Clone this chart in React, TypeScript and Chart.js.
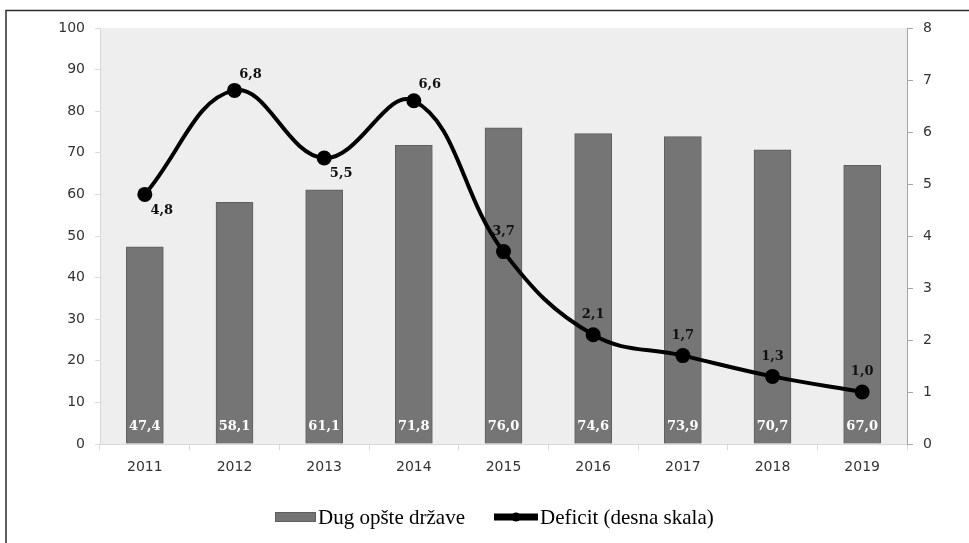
import React, { useEffect, useRef } from "react";
import { Chart, registerables } from "chart.js";

Chart.register(...registerables);

const years = ["2011", "2012", "2013", "2014", "2015", "2016", "2017", "2018", "2019"];
const debt = [47.4, 58.1, 61.1, 71.8, 76.0, 74.6, 73.9, 70.7, 67.0];
const deficit = [4.8, 6.8, 5.5, 6.6, 3.7, 2.1, 1.7, 1.3, 1.0];
const deficitLabelPlacement = ["belowRight", "aboveRight", "belowRight", "aboveRight", "above", "above", "above", "above", "above"];
const debtLabel = "Dug opšte države";
const deficitLabel = "Deficit (desna skala)";

const fmt = (v: number) => v.toFixed(1).replace(".", ",");

const W = 969;
const H = 543;

const decorPlugin = {
  id: "decor",
  beforeDraw(chart: any) {
    const { ctx, chartArea } = chart;
    ctx.save();
    ctx.fillStyle = "#ffffff";
    ctx.fillRect(0, 0, W, H);
    ctx.fillStyle = "#eeeeee";
    ctx.fillRect(chartArea.left, chartArea.top, chartArea.right - chartArea.left, chartArea.bottom - chartArea.top);
    ctx.strokeStyle = "#2b2b2b";
    ctx.lineWidth = 1.5;
    ctx.beginPath();
    ctx.moveTo(6, H + 5);
    ctx.lineTo(6, 10.5);
    ctx.lineTo(W + 5, 10.5);
    ctx.stroke();
    ctx.restore();
  },
  afterDatasetsDraw(chart: any) {
    const { ctx, chartArea } = chart;
    ctx.save();
    const barMeta = chart.getDatasetMeta(1);
    ctx.font = "bold 13px 'DejaVu Serif'";
    ctx.fillStyle = "#ffffff";
    ctx.textAlign = "center";
    ctx.textBaseline = "middle";
    barMeta.data.forEach((el: any, i: number) => {
      ctx.fillText(fmt(debt[i]), el.x, chartArea.bottom - 17);
    });
    const lineMeta = chart.getDatasetMeta(0);
    ctx.fillStyle = "#111111";
    lineMeta.data.forEach((el: any, i: number) => {
      const p = deficitLabelPlacement[i];
      let dx = 0;
      let dy = -20;
      if (p === "belowRight") { dx = 17; dy = 16; }
      if (p === "aboveRight") { dx = 16; dy = -16; }
      ctx.fillText(fmt(deficit[i]), el.x + dx, el.y + dy);
    });
    ctx.restore();
  },
  afterDraw(chart: any) {
    const { ctx } = chart;
    ctx.save();
    const ly = 517;
    ctx.fillStyle = "#757575";
    ctx.strokeStyle = "#5f5f5f";
    ctx.lineWidth = 1;
    ctx.fillRect(275, ly - 5, 41, 10);
    ctx.strokeRect(275.5, ly - 4.5, 40, 9);
    ctx.font = "21px 'Liberation Serif'";
    ctx.fillStyle = "#000000";
    ctx.textAlign = "left";
    ctx.textBaseline = "middle";
    ctx.fillText(debtLabel, 318, ly + 1);
    ctx.strokeStyle = "#000000";
    ctx.lineWidth = 7;
    ctx.beginPath();
    ctx.moveTo(494, ly);
    ctx.lineTo(538, ly);
    ctx.stroke();
    ctx.beginPath();
    ctx.arc(516, ly, 4.5, 0, Math.PI * 2);
    ctx.fillStyle = "#000000";
    ctx.fill();
    ctx.fillText(deficitLabel, 540, ly + 1);
    ctx.restore();
  },
};

export default function App() {
  const ref = useRef<HTMLCanvasElement | null>(null);
  useEffect(() => {
    if (!ref.current) return;
    const tickFont = { family: "'DejaVu Sans'", size: 14 };
    const chart = new Chart(ref.current, {
      type: "bar",
      data: {
        labels: years,
        datasets: [
          {
            type: "line",
            label: deficitLabel,
            data: deficit,
            yAxisID: "y1",
            borderColor: "#000000",
            backgroundColor: "#000000",
            borderWidth: 4,
            tension: 0.4,
            pointRadius: 7.5,
            pointBackgroundColor: "#000000",
            pointBorderWidth: 0,
            order: 0,
          } as any,
          {
            type: "bar",
            label: debtLabel,
            data: debt,
            yAxisID: "y",
            backgroundColor: "#757575",
            borderColor: "#5f5f5f",
            borderWidth: 1,
            barThickness: 37,
            order: 1,
          } as any,
        ],
      },
      options: {
        responsive: false,
        animation: false,
        devicePixelRatio: 1,
        layout: { padding: { top: 28, left: 0, right: 0, bottom: 0 } },
        plugins: { legend: { display: false }, tooltip: { enabled: false } },
        scales: {
          x: {
            offset: true,
            grid: { offset: true, drawOnChartArea: false, tickLength: 6, color: "#d9d9d9" },
            border: { color: "#d9d9d9" },
            ticks: { color: "#333333", font: tickFont, padding: 9, maxRotation: 0 },
            afterFit: (s: any) => { s.height = 99; },
          },
          y: {
            position: "left",
            min: 0,
            max: 100,
            ticks: { stepSize: 10, color: "#333333", font: tickFont, padding: 10 },
            grid: { drawOnChartArea: false, tickLength: 5, color: "#d9d9d9" },
            border: { color: "#d9d9d9" },
            afterFit: (s: any) => { s.width = 100; },
          },
          y1: {
            position: "right",
            min: 0,
            max: 8,
            ticks: { stepSize: 1, color: "#333333", font: tickFont, padding: 10 },
            grid: { drawOnChartArea: false, tickLength: 6, color: "#a6a6a6" },
            border: { color: "#a6a6a6" },
            afterFit: (s: any) => { s.width = 62; },
          },
        },
      } as any,
      plugins: [decorPlugin],
    });
    return () => chart.destroy();
  }, []);
  return (
    <div style={{ position: "fixed", left: 0, top: 0, width: W, height: H, background: "#fff" }}>
      <canvas ref={ref} width={W} height={H} style={{ display: "block" }} />
    </div>
  );
}
